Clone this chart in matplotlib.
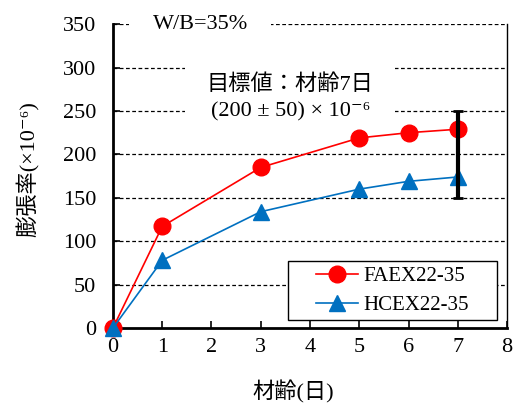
import matplotlib
matplotlib.use("Agg")
from matplotlib import pyplot as plt
from matplotlib.path import Path
from matplotlib.patches import Rectangle

days = [0, 1, 3, 5, 6, 7]
faex = [0, 117, 185, 219, 225, 229]
hcex = [0, 78, 134, 160, 169, 174]
target_day = 7
target_mid = 200
target_err = 50

plt.rcParams['font.family'] = ['Liberation Serif', 'Noto Sans CJK JP', 'DejaVu Serif']
plt.rcParams['font.size'] = 16


def wide_box(x0, y0, width, height, mutation_size):
    # legend frame with extra room left and right
    p = 1.1 * mutation_size
    return Path([(x0 - p, y0), (x0 + width + p, y0), (x0 + width + p, y0 + height),
                 (x0 - p, y0 + height), (x0 - p, y0)], closed=True)


fig = plt.figure(figsize=(5.18, 4.03), dpi=100)
ax = fig.add_axes([0.218, 0.186, 0.761, 0.754])

ax.plot(days, faex, color='#FF0000', marker='o', markersize=12, linewidth=1.2,
        label='FAEX22-35', zorder=3, clip_on=False)
ax.plot(days, hcex, color='#0070C0', marker='^', markersize=12, linewidth=1.2,
        label='HCEX22-35', zorder=4, clip_on=False)
ax.errorbar([target_day], [target_mid], yerr=[target_err], fmt='none', ecolor='black',
            elinewidth=3, capsize=3.5, capthick=2, zorder=5)

ax.set_xlim(0, 8)
ax.set_ylim(0, 350)
ax.set_xticks(range(0, 9))
ax.set_yticks(range(0, 351, 50))
ax.tick_params(axis='y', direction='in', length=5, width=1.2, labelsize=16, pad=12)
ax.tick_params(axis='x', direction='in', length=5, width=1.2, labelsize=16, pad=7)
for y in range(50, 351, 50):
    ax.axhline(y, color='black', linestyle=(0, (3, 2)), linewidth=0.9, zorder=1)

ax.spines['top'].set_visible(False)
ax.spines['left'].set_linewidth(2)
ax.spines['bottom'].set_linewidth(2)
ax.spines['right'].set_linewidth(1)

ax.set_xlabel('材齢(日)', fontsize=16)
ax.set_ylabel('膨張率(×10⁻⁶)', fontsize=16)
ax.xaxis.set_label_coords(0.457, -0.172)
ax.yaxis.set_label_coords(-0.185, 0.523)

ax.text(1.77, 350, 'W/B=35%', ha='center', va='center', fontsize=16,
        bbox=dict(facecolor='white', edgecolor='none', pad=17), zorder=6)
ax.add_patch(Rectangle((1.46, 238), 4.27, 80, facecolor='white', edgecolor='none', zorder=2))
ax.text(3.6, 280, '目標値：材齢7日', ha='center', va='center', fontsize=16, zorder=6)
ax.text(3.6, 249, '(200 ± 50) × 10⁻⁶', ha='center', va='center', fontsize=16, zorder=6)

leg = ax.legend(loc='lower right', bbox_to_anchor=(0.916, 0.026), borderaxespad=0,
                fancybox=False, edgecolor='black', framealpha=1,
                fontsize=15, handlelength=2.0, handletextpad=0.25,
                borderpad=0.25, labelspacing=0.45)
leg.get_frame().set_linewidth(1)
leg.get_frame().set_boxstyle(wide_box)

fig.savefig('out.png', dpi=100)
